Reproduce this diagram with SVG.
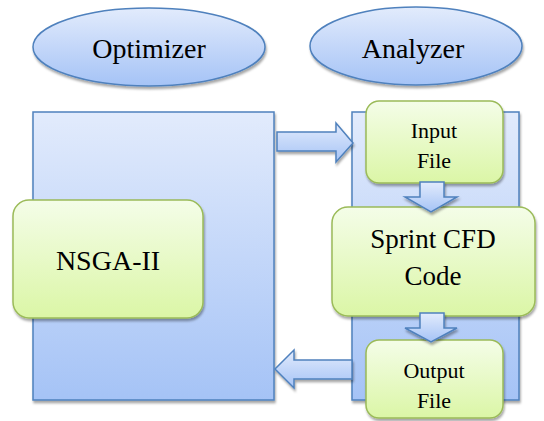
<svg xmlns="http://www.w3.org/2000/svg" width="544" height="421" viewBox="0 0 544 421">
<defs>
<linearGradient id="blue" x1="0" y1="0" x2="0" y2="1">
<stop offset="0" stop-color="#e2ebfc"/>
<stop offset="1" stop-color="#a5c3f6"/>
</linearGradient>
<linearGradient id="green" x1="0" y1="0" x2="0" y2="1">
<stop offset="0" stop-color="#f4fde8"/>
<stop offset="1" stop-color="#dbf6a6"/>
</linearGradient>
<filter id="sh" x="-10%" y="-10%" width="130%" height="130%">
<feDropShadow dx="1" dy="2.5" stdDeviation="1" flood-color="#000" flood-opacity="0.35"/>
</filter>
<style>
.bl{fill:url(#blue);stroke:#4f81bd;stroke-width:1.5;filter:url(#sh)}
.gr{fill:url(#green);stroke:#9bbb59;stroke-width:1.5;filter:url(#sh)}
text{font-family:'Liberation Serif','Times New Roman',Times,Tinos,'Noto Serif','DejaVu Serif',serif;fill:#000;text-anchor:middle}
</style>
</defs>
<g id="optimizer">
<ellipse class="bl" cx="149" cy="47" rx="116" ry="39"/>
<text x="149" y="58" font-size="28">Optimizer</text>
</g>
<g id="analyzer">
<ellipse class="bl" cx="416" cy="46" rx="106" ry="39"/>
<text x="413" y="58" font-size="28">Analyzer</text>
</g>
<g id="optimizer-panel">
<rect class="bl" x="33" y="112" width="241" height="288"/>
</g>
<g id="analyzer-panel">
<rect class="bl" x="352" y="112" width="167" height="288"/>
</g>
<g id="nsga">
<rect class="gr" x="13" y="200" width="190" height="118" rx="16"/>
<text x="108" y="270" font-size="28">NSGA-II</text>
</g>
<g id="input-file">
<rect class="gr" x="366" y="101" width="137" height="82" rx="13"/>
<text x="434" y="138" font-size="22">Input</text>
<text x="434" y="168" font-size="22">File</text>
</g>
<g id="sprint">
<rect class="gr" x="332" y="207" width="203" height="109" rx="16"/>
<text x="433" y="248" font-size="27">Sprint CFD</text>
<text x="433" y="285" font-size="27">Code</text>
</g>
<g id="output-file">
<rect class="gr" x="366" y="340" width="137" height="78" rx="13"/>
<text x="434" y="378" font-size="22">Output</text>
<text x="434" y="408" font-size="22">File</text>
</g>
<g id="connectors">
<path class="bl" d="M277,132 H336 V123 L353,143 L336,162 V151 H277 Z"/>
<path class="bl" d="M352,360 H294 V350 L275,369 L294,388 V379 H352 Z"/>
<path class="bl" d="M420,182 H444 V197 H457 L431,212 L405,197 H420 Z"/>
<path class="bl" d="M420,313 H444 V328 H457 L431,342 L405,328 H420 Z"/>
</g>
</svg>
